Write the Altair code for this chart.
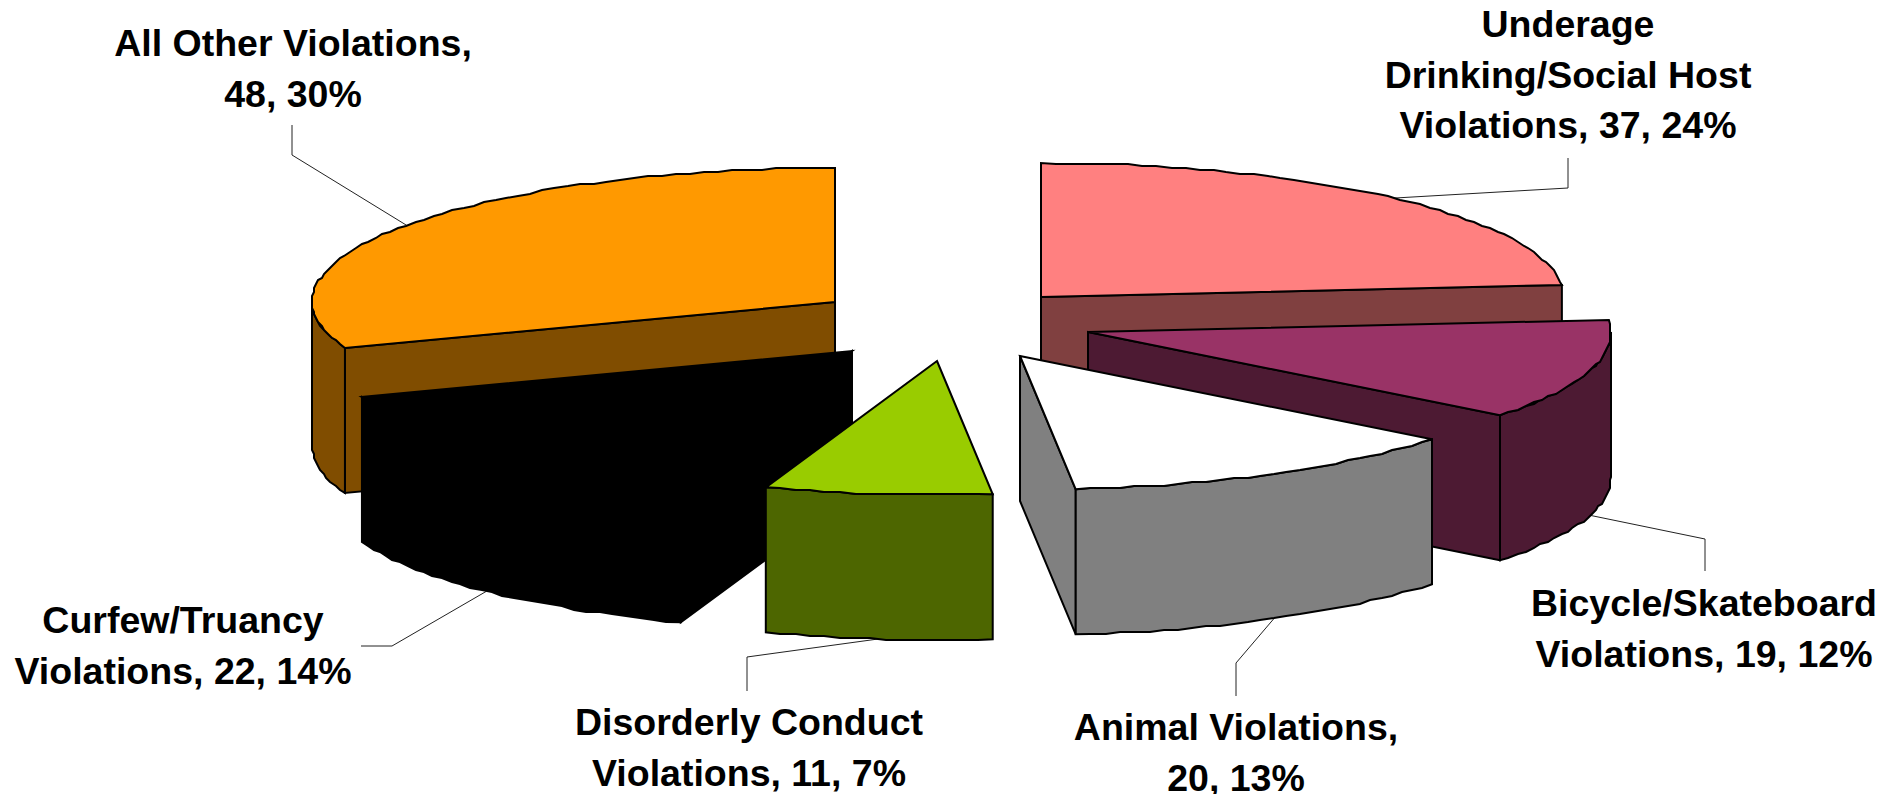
import math
import altair as alt

names = ["Underage Drinking/Social Host Violations", "Bicycle/Skateboard Violations", "Animal Violations",
         "Disorderly Conduct Violations", "Curfew/Truancy Violations", "All Other Violations"]
counts = [37, 19, 20, 11, 22, 48]
top_colors = ["#FF8080", "#993366", "#FFFFFF", "#99CC00", "#000000", "#FF9900"]
side_colors = ["#804040", "#4D1A33", "#808080", "#4D6600", "#000000", "#804D00"]
apex_x = [1041, 1088, 1020, 937, 852, 835]
apex_y = [297, 332, 356, 361, 351, 302]
paint_order = [5, 0, 1, 4, 3, 2]
RX, RY, DEPTH = 523, 134, 145
SKEW = 3.5
JAG = 2.0

label_lines = [
    ["Underage", "Drinking/Social Host", "Violations, 37, 24%"],
    ["Bicycle/Skateboard", "Violations, 19, 12%"],
    ["Animal Violations,", "20, 13%"],
    ["Disorderly Conduct", "Violations, 11, 7%"],
    ["Curfew/Truancy", "Violations, 22, 14%"],
    ["All Other Violations,", "48, 30%"],
]
label_x = [1568, 1704, 1236, 749, 183, 293]
label_y = [26, 605, 729, 724, 622, 45]
LINE = 50.5
elbow_ends = [(1568, 158), (1705, 571), (1236, 696), (747, 691), (361, 646), (292, 125)]
elbows = [(1568, 188), (1705, 539), (1236, 663), (747, 657), (392, 646), (292, 155)]

total = sum(counts)
starts, acc = [], 0
for c in counts:
    starts.append(acc / total * 360)
    acc += c


def pt(i, deg, drop=0.0):
    t = math.radians(deg)
    return [apex_x[i] + RX * math.sin(t) + SKEW * max(0.0, -math.cos(t)),
            apex_y[i] - RY * math.cos(t) + drop]


def arc(i, a, b, drop=0.0):
    n = max(2, int((b - a) / 1.6))
    out = []
    for k in range(n + 1):
        p = pt(i, a + (b - a) * k / n, drop)
        if 0 < k < n:
            p = [round(p[0] / JAG) * JAG, round(p[1] / JAG) * JAG]
        out.append(p)
    return out


def poly(ring, fill):
    ring = ring + [ring[0]]
    return {"type": "Feature", "properties": {"fill": fill},
            "geometry": {"type": "Polygon", "coordinates": [ring]}}


features = []
for i in paint_order:
    a = starts[i]
    b = a + counts[i] / total * 360
    o = [apex_x[i], apex_y[i]]
    o2 = [o[0], o[1] + DEPTH]
    side = side_colors[i]
    if math.sin(math.radians(a)) < 0:
        p = pt(i, a)
        features.append(poly([o, p, [p[0], p[1] + DEPTH], o2], side))
    if math.sin(math.radians(b)) > 0:
        p = pt(i, b)
        features.append(poly([o, p, [p[0], p[1] + DEPTH], o2], side))
    lo, hi = max(a, 90), min(b, 270)
    if lo < hi:
        features.append(poly(arc(i, lo, hi) + arc(i, lo, hi, DEPTH)[::-1], side))
    features.append(poly([o] + arc(i, a, b), top_colors[i]))

leaders = []
for i in range(6):
    mid = starts[i] + counts[i] / total * 180
    drop = DEPTH if math.cos(math.radians(mid)) < 0 else 0
    leaders.append({"type": "Feature", "properties": {},
                    "geometry": {"type": "LineString",
                                 "coordinates": [list(elbow_ends[i]), list(elbows[i]), pt(i, mid, drop)]}})

texts = []
for i, lines in enumerate(label_lines):
    for k, s in enumerate(lines):
        texts.append({"t": s, "x": label_x[i], "y": label_y[i] + k * LINE, "name": names[i]})

W, H = 1888, 786
proj = dict(type="identity", scale=1, translate=[-8, -8])

shapes = alt.Chart(alt.Data(values=features)).mark_geoshape(
    stroke="#000000", strokeWidth=2, strokeJoin="miter"
).encode(fill=alt.Fill("properties.fill:N", scale=None)).project(**proj)

lead = alt.Chart(alt.Data(values=leaders)).mark_geoshape(
    filled=False, stroke="#222222", strokeWidth=1
).project(**proj)

labels = alt.Chart(alt.Data(values=texts)).mark_text(
    font="Liberation Sans", fontWeight="bold", fontSize=37.5, align="center", baseline="middle", color="#000000"
).encode(
    x=alt.X("x:Q", axis=None, scale=alt.Scale(domain=[8, 8 + W], range=[0, W])),
    y=alt.Y("y:Q", axis=None, scale=alt.Scale(domain=[8, 8 + H], range=[0, H])),
    text="t:N",
)

chart = alt.layer(lead, shapes, labels).properties(
    width=W, height=H, padding=0, background="#FFFFFF", autosize=alt.AutoSizeParams(type="none")
).configure_view(stroke=None)

chart.save("out.html", embed_options={"renderer": "svg", "actions": False})
